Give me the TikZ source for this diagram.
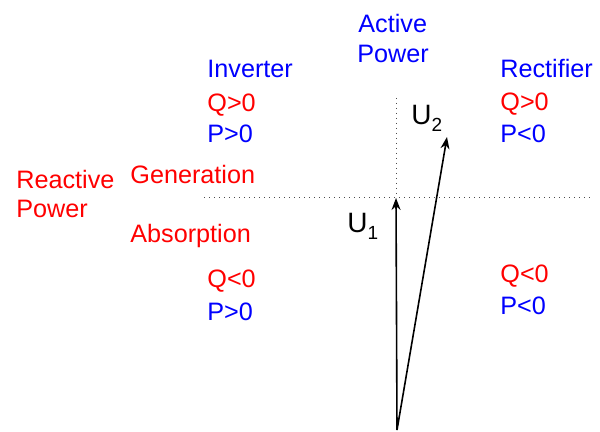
\documentclass[tikz,border=0pt]{standalone}
\usepackage{fontspec}
\setmainfont{Liberation Sans}
\usetikzlibrary{arrows.meta}
\definecolor{myblue}{RGB}{0,0,255}
\definecolor{myred}{RGB}{255,0,0}
\newcommand{\mysub}[1]{\raisebox{-0.22em}{\fontsize{9.5}{10}\selectfont #1}}
\begin{document}
\begin{tikzpicture}[x=0.5pt,y=-0.5pt,
  lbl/.style={anchor=base west,inner sep=0pt,font=\fontsize{12.6}{15}\selectfont},
  bl/.style={lbl,text=myblue},
  rd/.style={lbl,text=myred},
  ulbl/.style={anchor=base west,inner sep=0pt,font=\fontsize{14}{16}\selectfont},
  axis/.style={black!70,line width=0.5pt,dotted},
  vec/.style={black,line width=0.8pt,-{Stealth[length=6pt,width=4.5pt]}}]
\useasboundingbox (0,0) rectangle (600,432);
% axes
\coordinate (vtop) at (396,98);
\coordinate (hleft) at (204,198);
\coordinate (hright) at (592,198);
\coordinate (orig) at (396,198);
\coordinate (base) at (397,430);
\coordinate (u2end) at (447,137);
\draw[axis] (hleft) -- (hright);
\draw[axis] (vtop) -- (orig);
\draw[vec] (base) -- (orig);
\draw[vec] (base) -- (u2end);
% labels
\node[bl] (ap1) at (358,33) {Active};
\node[bl] (ap2) at (357,63) {Power};
\node[bl] (inv) at (207,78) {Inverter};
\node[rd] (q1) at (207,112) {Q>0};
\node[bl] (p1) at (207,143) {P>0};
\node[bl] (rec) at (500,78) {Rectifier};
\node[rd] (q2) at (500,111) {Q>0};
\node[bl] (p2) at (500,143) {P<0};
\node[rd] (rp1) at (16,189) {Reactive};
\node[rd] (rp2) at (16,218) {Power};
\node[rd] (gen) at (130,184) {Generation};
\node[rd] (abs) at (130,243) {Absorption};
\node[rd] (q3) at (207,288) {Q<0};
\node[bl] (p3) at (207,321) {P>0};
\node[rd] (q4) at (500,283) {Q<0};
\node[bl] (p4) at (500,315) {P<0};
\node[ulbl] (u1) at (347,233) {U\mysub{1}};
\node[ulbl] (u2) at (411,125) {U\mysub{2}};
\end{tikzpicture}
\end{document}
